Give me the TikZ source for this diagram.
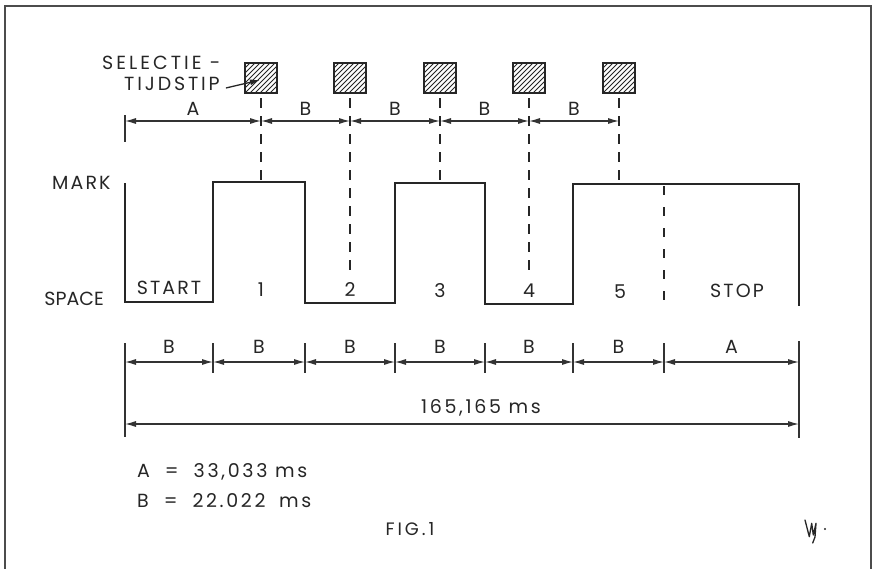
\documentclass[tikz,border=0pt]{standalone}
\usepackage{fontspec}
\setmainfont{Poppins}[LetterSpace=11]
\usetikzlibrary{arrows.meta}
\begin{document}
\begin{tikzpicture}[x=1pt,y=-1pt,
  sig/.style={line width=2.4pt, line join=miter, black!85},
  dimline/.style={line width=1.2pt, black!80, {Latex[length=11pt,width=6pt]}-{Latex[length=11pt,width=6pt]}},
  tickline/.style={line width=1.3pt, black!80},
  dsh/.style={line width=1.5pt, black!85, dash pattern=on 10pt off 8pt},
  lbl/.style={font=\fontsize{19}{19}\selectfont, inner sep=0pt, text=black!85},
  sq/.style={line width=2.2pt, black!85},
  frame/.style={line width=2.4pt, black!70}]
\useasboundingbox (0,0) rectangle (873,568);
% frame
\draw[frame] (5,600) -- (5,6) -- (871,6) -- (871,600);

% selection squares
\foreach \n/\xx in {1/261,2/350,3/440,4/529,5/619}{
  \begin{scope}
    \clip (\xx-16,63) rectangle (\xx+16,93);
    \foreach \k in {-40,-35,...,40}{
      \draw[line width=1pt, black!85] (\xx+\k-16,93) -- (\xx+\k+14,63);
    }
  \end{scope}
  \draw[sq] (\xx-16,63) rectangle (\xx+16,93);
  \coordinate (s\n) at (\xx,93);
}

% selection label + arrow
\node[lbl, anchor=west] (sel1) at (102,63) {\addfontfeature{LetterSpace=16}SELECTIE\ -};
\node[lbl, anchor=west] (sel2) at (124,84) {\addfontfeature{LetterSpace=15}TIJDSTIP};
\coordinate (selarr) at (260,80);
\draw[line width=1.3pt, black!85, -{Latex[length=10pt,width=6pt]}] (sel2.east) ++(6pt,-4pt) coordinate (selstart) -- (selarr);

% top dimension line
\coordinate (t0) at (125,121);
\coordinate (t1) at (261,121);
\coordinate (t2) at (350,121);
\coordinate (t3) at (440,121);
\coordinate (t4) at (529,121);
\coordinate (t5) at (619,121);
\draw[tickline] (125,115) -- (125,142);
\draw[dimline] (t0) -- node[lbl, above=5pt] {A} (t1);
\draw[dimline] (t1) -- node[lbl, above=5pt] {B} (t2);
\draw[dimline] (t2) -- node[lbl, above=5pt] {B} (t3);
\draw[dimline] (t3) -- node[lbl, above=5pt] {B} (t4);
\draw[dimline] (t4) -- node[lbl, above=5pt] {B} (t5);

% dashed selection lines
\draw[dsh] (261,98) -- (261,180);
\draw[dsh] (350,98) -- (350,274);
\draw[dsh] (440,98) -- (440,181);
\draw[dsh] (529,98) -- (529,274);
\draw[dsh] (619,98) -- (619,182);

% levels
\node[lbl, anchor=west] (mark) at (52,183) {MARK};
\node[lbl, anchor=east] (space) at (104,299) {\addfontfeature{LetterSpace=0}SPACE};

% signal
\draw[sig] (125,183) -- (125,302) -- (213,302) -- (213,182) -- (305,182) -- (305,303)
  -- (395,303) -- (395,183) -- (485,183) -- (485,304) -- (573,304) -- (573,184)
  -- (799,184) -- (799,306);
\draw[line width=2.4pt, black!85, dash pattern=on 9pt off 12pt] (664,186) -- (664,306);

% bit labels
\node[lbl] (lstart) at (169,288) {START};
\node[lbl] (l1) at (261,290) {1};
\node[lbl] (l2) at (350,290) {2};
\node[lbl] (l3) at (440,291) {3};
\node[lbl] (l4) at (529,291) {4};
\node[lbl] (l5) at (620,292) {5};
\node[lbl] (lstop) at (737,291) {STOP};

% bottom dimension lines
\foreach \i/\xx in {0/125,1/213,2/305,3/395,4/485,5/573,6/664,7/799}{
  \coordinate (b\i) at (\xx,362);
}
\foreach \xx in {213,305,395,485,573,664}{
  \draw[tickline] (\xx,343) -- (\xx,373);
}
\draw[tickline] (125,343) -- (125,437);
\draw[tickline] (799,341) -- (799,438);
\draw[dimline] (b0) -- node[lbl, above=8pt] {B} (b1);
\draw[dimline] (b1) -- node[lbl, above=8pt] {B} (b2);
\draw[dimline] (b2) -- node[lbl, above=8pt] {B} (b3);
\draw[dimline] (b3) -- node[lbl, above=8pt] {B} (b4);
\draw[dimline] (b4) -- node[lbl, above=8pt] {B} (b5);
\draw[dimline] (b5) -- node[lbl, above=8pt] {B} (b6);
\draw[dimline] (b6) -- node[lbl, above=8pt] {A} (b7);
\coordinate (tot0) at (125,424);
\coordinate (tot1) at (799,424);
\draw[dimline] (tot0) -- (tot1);
\node[lbl] (total) at (481,408) {\addfontfeature{LetterSpace=14}165,165 ms};

% legend
\node[lbl, anchor=west] (la) at (137,472) {A\hspace{15pt}=\hspace{15pt}\addfontfeature{LetterSpace=14}33,033 ms};
\node[lbl, anchor=west] (lb) at (137,501) {B\hspace{15pt}=\hspace{15pt}\addfontfeature{LetterSpace=14}22.022\hspace{6pt} ms};
\node[lbl, font=\fontsize{18}{18}\selectfont] (fig) at (410,529) {\addfontfeature{LetterSpace=16}FIG.1};

% signature
\draw[line width=1.3pt, black!85, line cap=round, line join=round]
  (805,520) -- (809.3,536.7) -- (811.7,523.3) -- (813.3,535) -- (816,523.3) -- (815,537) -- (812.7,543);
\fill[black!85] (825,529) circle (1.1pt);
\end{tikzpicture}
\end{document}
